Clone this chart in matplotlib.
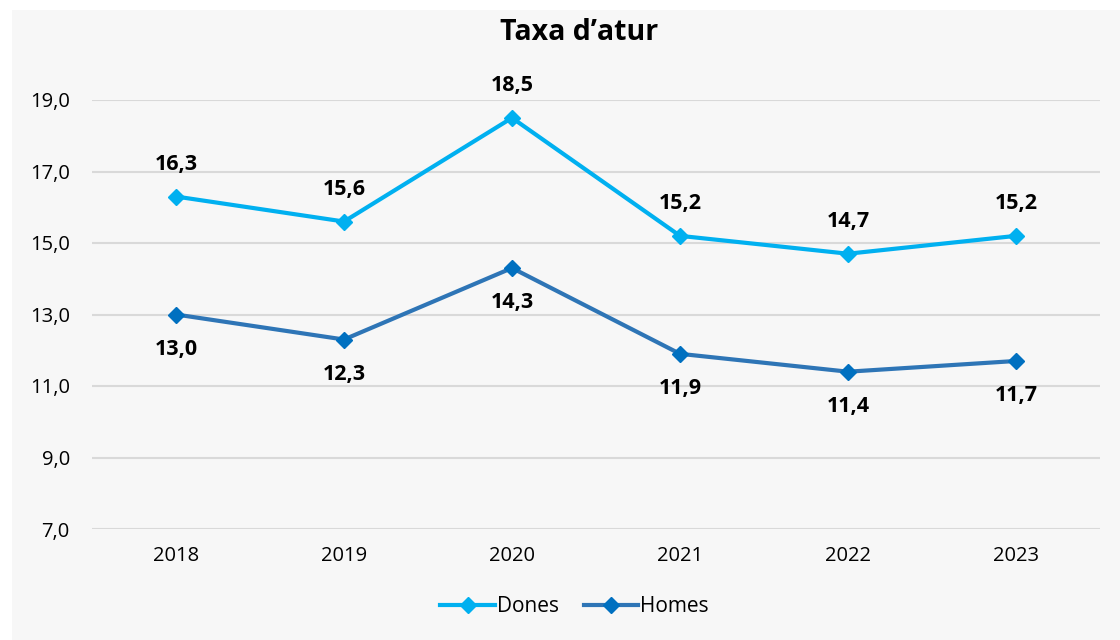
import matplotlib.pyplot as plt
from matplotlib.patches import Rectangle

plt.rcParams['font.family'] = ['Open Sans', 'DejaVu Sans']

# Data
years = ["2018", "2019", "2020", "2021", "2022", "2023"]
dones = [16.3, 15.6, 18.5, 15.2, 14.7, 15.2]
homes = [13.0, 12.3, 14.3, 11.9, 11.4, 11.7]
yticks = [7.0, 9.0, 11.0, 13.0, 15.0, 17.0, 19.0]

def fmt(v):
    return f"{v:.1f}".replace(".", ",")

fig = plt.figure(figsize=(11.2, 6.4), dpi=100)
fig.patch.set_facecolor("white")
# light grey panel behind the chart
fig.add_artist(Rectangle((12 / 1120, 0), 1, 1 - 10 / 640, transform=fig.transFigure,
                         facecolor="#f7f7f7", edgecolor="none", zorder=-5))

ax = fig.add_axes([92 / 1120, 1 - 529 / 640, 1008 / 1120, 429 / 640])
ax.set_facecolor("none")
x = list(range(len(years)))

ax.plot(x, dones, color="#00b0f0", lw=3, marker="D", ms=8, mfc="#00b0f0", mec="#00b0f0",
        label="Dones", zorder=3)
ax.plot(x, homes, color="#2e75b6", lw=3, marker="D", ms=8, mfc="#0070c0", mec="#0070c0",
        label="Homes", zorder=3)

for xi, v in zip(x, dones):
    ax.annotate(fmt(v), (xi, v), xytext=(0, 23), textcoords="offset points", ha="center",
                va="center", fontsize=15.5, fontweight="bold", annotation_clip=False)
for xi, v in zip(x, homes):
    ax.annotate(fmt(v), (xi, v), xytext=(0, -25), textcoords="offset points", ha="center",
                va="center", fontsize=15.5, fontweight="bold", annotation_clip=False)

ax.set_xlim(-0.5, 5.5)
ax.set_ylim(7, 19)
ax.set_yticks(yticks)
ax.set_yticklabels([fmt(t) for t in yticks], fontsize=14.5)
ax.set_xticks(x)
ax.set_xticklabels(years, fontsize=14.5)
ax.tick_params(length=0, pad=16)
ax.tick_params(axis="x", pad=12)
ax.grid(axis="y", color="#d9d9d9", lw=1.5)
ax.set_axisbelow(True)
for s in ax.spines.values():
    s.set_visible(False)

fig.text(0.517, 1 - 33 / 640, "Taxa d\u2019atur", ha="center", va="center", fontsize=20.5,
         fontweight="bold")

fig.legend(loc="center", bbox_to_anchor=(0.513, 1 - 607 / 640), ncol=2, frameon=False,
           fontsize=15, handlelength=2.6, columnspacing=1.2, handletextpad=0.1)

fig.savefig("out.png", dpi=100)
